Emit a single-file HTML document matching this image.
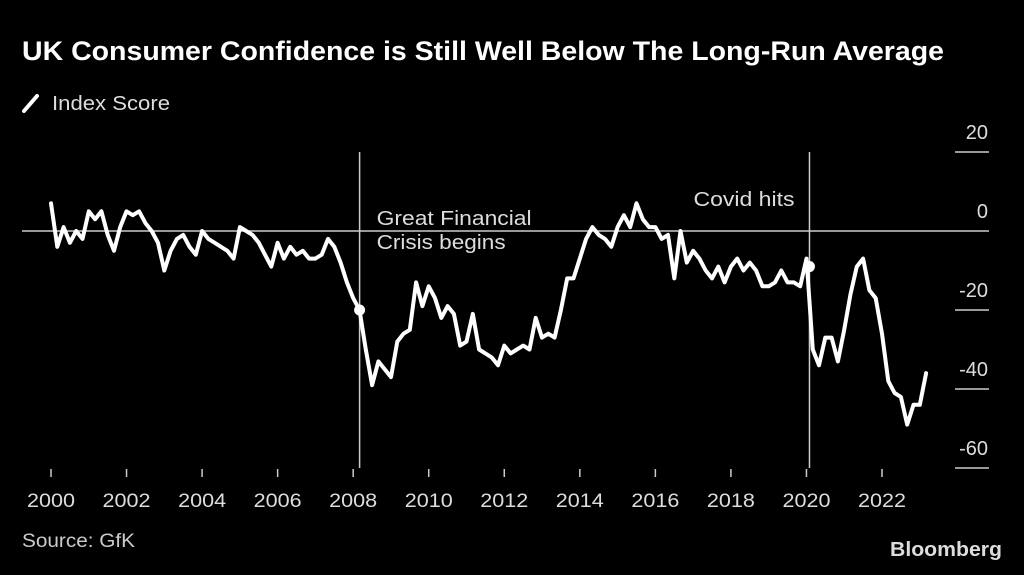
<!DOCTYPE html>
<html><head><meta charset="utf-8"><style>
body{margin:0;background:#000;width:1024px;height:570px;overflow:hidden;font-family:"Liberation Sans",sans-serif;color:#fff}
</style></head><body>
<svg width="1024" height="570" viewBox="0 0 1024 570">
<text x="22" y="60" font-size="27" font-weight="bold" fill="#fff" textLength="922" lengthAdjust="spacingAndGlyphs">UK Consumer Confidence is Still Well Below The Long-Run Average</text>
<line x1="24" y1="111" x2="37" y2="96" stroke="#fff" stroke-width="4" stroke-linecap="round"/>
<text x="52" y="110" font-size="20" fill="#ddd" textLength="118" lengthAdjust="spacingAndGlyphs">Index Score</text>
<g id="axes"></g>
<g id="plot"></g>
<text x="22" y="547" font-size="19" fill="#ccc" textLength="113" lengthAdjust="spacingAndGlyphs">Source: GfK</text>
<text x="1002" y="556" font-size="20" font-weight="bold" fill="#ddd" text-anchor="end" textLength="112" lengthAdjust="spacingAndGlyphs">Bloomberg</text>
</svg>
<script>
const startYear = 2000;
const stepYears = 1/6;
const values = [
 7,-4,1,-3,0,-2,
 5,3,5,-1,-5,1,
 5,4,5,2,0,-3,
 -10,-5,-2,-1,-4,-6,
 0,-2,-3,-4,-5,-7,
 1,0,-1,-3,-6,-9,
 -3,-7,-4,-6,-5,-7,
 -7,-6,-2,-4,-8,-13,
 -17,-20,-30,-39,-33,-35,
 -37,-28,-26,-25,-13,-19,
 -14,-17,-22,-19,-21,-29,
 -28,-21,-30,-31,-32,-34,
 -29,-31,-30,-29,-30,-22,
 -27,-26,-27,-20,-12,-12,
 -7,-2,1,-1,-2,-4,
 1,4,1,7,3,1,
 1,-2,-1,-12,0,-8,
 -5,-7,-10,-12,-9,-13,
 -9,-7,-10,-8,-10,-14,
 -14,-13,-10,-13,-13,-14,
 -7,-30,-34,-27,-27,-33,
 -25,-16,-9,-7,-15,-17,
 -26,-38,-41,-42,-49,-44,
 -44,-36
];
const yTicks = [20,0,-20,-40,-60];
const xTicks = [2000,2002,2004,2006,2008,2010,2012,2014,2016,2018,2020,2022];
const events = [{year:2008.17,value:-20,label:["Great Financial","Crisis begins"]},{year:2020.08,value:-9,label:["Covid hits"]}];

const NS="http://www.w3.org/2000/svg";
const xs = y => 51 + (y-2000)*(882-51)/22;
const ys = v => 231 - v*3.95;
function mk(tag, attrs, parent){const e=document.createElementNS(NS,tag);for(const k in attrs)e.setAttribute(k,attrs[k]);parent.appendChild(e);return e;}
const axes=document.getElementById('axes'), plot=document.getElementById('plot');

yTicks.forEach(v=>{
  const y=ys(v);
  if(v===0){const l=mk('line',{x1:22,x2:989,y1:y,y2:y,stroke:'#ccc','stroke-width':1.5},axes);
    
    }
  else{const l=mk('line',{x1:955,x2:989,y1:y,y2:y,stroke:'#ccc','stroke-width':1.5},axes);
    
    }
  const t=mk('text',{x:988,y:y-13,'font-size':20,fill:'#ddd','text-anchor':'end'},axes);
  t.textContent=v;
  
  
});
xTicks.forEach(yr=>{
  const x=xs(yr);
  const l=mk('line',{x1:x,x2:x,y1:469,y2:477,stroke:'#ccc','stroke-width':1.5},axes);
  
  
  const t=mk('text',{x:x,y:507,'font-size':19,fill:'#ddd','text-anchor':'middle',textLength:48,lengthAdjust:'spacingAndGlyphs'},axes);
  t.textContent=yr;
  
  
});
const evLens=[[155,129],[101]];
events.forEach((ev,i)=>{
  const x=xs(ev.year);
  const l=mk('line',{x1:x,x2:x,y1:152,y2:468,stroke:'#ccc','stroke-width':1.5},axes);
  
  
  ev.label.forEach((s,j)=>{
    const t=mk('text',{x:i===0?x+17:x-15,y:(i===0?225:206)+j*24,'font-size':20,fill:'#ddd','text-anchor':i===0?'start':'end',textLength:evLens[i][j],lengthAdjust:'spacingAndGlyphs'},axes);
    t.textContent=s;
    
    
  });
});
const pts=values.map((v,i)=>xs(startYear+i*stepYears).toFixed(1)+','+ys(v).toFixed(1)).join(' ');
const line=mk('polyline',{points:pts,fill:'none',stroke:'#fff','stroke-width':4,'stroke-linejoin':'round','stroke-linecap':'round'},plot);


events.forEach(ev=>{
  const c=mk('circle',{cx:xs(ev.year),cy:ys(ev.value),r:5.5,fill:'#fff'},plot);
  
  
});
</script>
</body></html>
